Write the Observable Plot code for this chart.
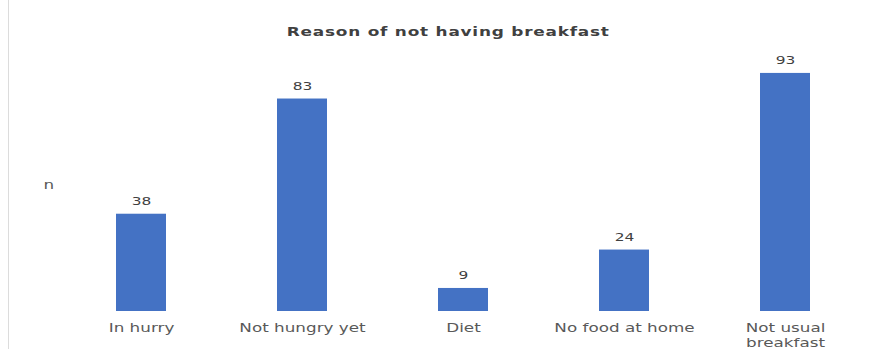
<!DOCTYPE html>
<html>
<head>
<meta charset="utf-8">
<script src="https://cdn.jsdelivr.net/npm/d3@7"></script>
<script src="https://cdn.jsdelivr.net/npm/@observablehq/plot@0.6"></script>
<style>
  html, body { margin: 0; padding: 0; background: #fff; }
  #wrap { position: relative; width: 875px; height: 349px; overflow: hidden; background: #fff; }
  #frame { position: absolute; left: 8px; top: 0; width: 1px; height: 349px; background: #dcdcdc; z-index: 2; }
  #title { position: absolute; left: 0; top: 22px; width: 896px; text-align: center; }
  #title span { display: inline-block; transform: scaleX(1.3);
    font-family: "DejaVu Sans", sans-serif; font-weight: bold; font-size: 13px; color: #404040; letter-spacing: 0.6px; }
  #chart { position: absolute; left: 0; top: 50px; z-index: 1; }
</style>
</head>
<body>
<div id="wrap">
  <div id="frame"></div>
  <div id="title"><span>Reason of not having breakfast</span></div>
  <div id="chart"></div>
</div>
<script>
const categories = ["In hurry", "Not hungry yet", "Diet", "No food at home", "Not usual\nbreakfast"];
const counts = [38, 83, 9, 24, 93];
const yLabel = "n";

const data = categories.map((c, i) => ({reason: c, n: counts[i]}));

const chart = Plot.plot({
  width: 875,
  height: 299,
  marginLeft: 60,
  marginRight: 9,
  marginTop: 5,
  marginBottom: 38,
  style: {fontFamily: "'DejaVu Sans', sans-serif", fontSize: "12px", color: "#595959", background: "transparent"},
  x: {domain: categories, paddingInner: 0.69, paddingOuter: 0.345, label: null},
  y: {domain: [0, 100], axis: null},
  marks: [
    Plot.barY(data, {x: "reason", y: "n", fill: "#4472C4"}),
    Plot.ruleY([0], {stroke: "#d9d9d9", x1: 35, x2: 866, strokeWidth: 1}),
    Plot.text(data, {x: "reason", y: "n", text: d => String(d.n), dy: -13, fill: "#404040",
      fontSize: 11, fontFamily: "'DejaVu Sans', sans-serif", letterSpacing: 1}),
    Plot.axisX({tickSize: 0, tickPadding: 9, lineHeight: 1.3, fill: "#595959",
      fontSize: 12, fontFamily: "'DejaVu Sans', sans-serif", textOverflow: null}),
    Plot.text([yLabel], {frameAnchor: "left", dx: -17, dy: 2, text: d => d, fill: "#595959", fontSize: 12})
  ]
});
// widen glyphs horizontally, like the stretched reference picture
d3.select(chart).selectAll("text").each(function() {
  const t = this.getAttribute("transform") || "";
  if (t) this.setAttribute("transform", t + " scale(1.4,1)");
});
d3.select(chart).selectAll("g[aria-label='x-axis tick label']").each(function() {});
document.getElementById("chart").appendChild(chart);
</script>
</body>
</html>
